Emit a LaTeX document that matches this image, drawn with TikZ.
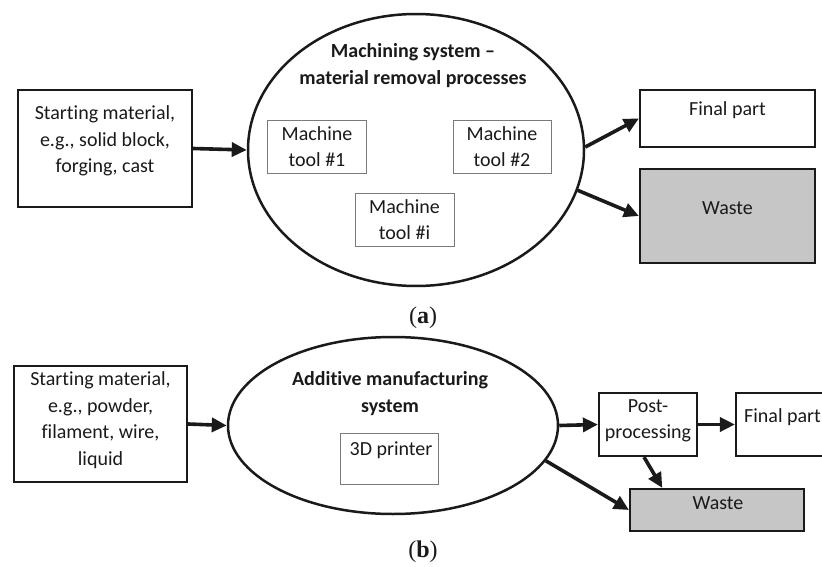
\documentclass[tikz,border=0pt]{standalone}
\usepackage{fontspec}
\setmainfont{Carlito}[Ligatures=NoCommon]
\newfontfamily\capfont{Liberation Serif}
\usetikzlibrary{shapes.geometric,arrows.meta}
\definecolor{ink}{HTML}{1A1A1A}
\definecolor{wastegray}{HTML}{C6C6C6}
\definecolor{thin}{HTML}{7A7A7A}
\tikzset{
  box/.style={draw=ink, line width=2.2pt, inner sep=0pt},
  tool/.style={draw=thin, line width=0.9pt, inner sep=0pt},
  sys/.style={ellipse, draw=ink, line width=2.5pt, inner sep=0pt},
  txt/.style={text=ink, align=center, inner sep=0pt, font=\fontsize{20}{26.5}\selectfont},
  ttl/.style={txt, font=\fontsize{20}{27}\selectfont\bfseries},
  flow/.style={draw=ink, line width=3.6pt, -{Triangle[length=15pt,width=14pt]}},
  subcap/.style={text=ink, inner sep=0pt, font=\capfont\fontsize{24}{26}\selectfont}
}
\begin{document}
\begin{tikzpicture}[x=1pt,y=-1pt]
\useasboundingbox (0,0) rectangle (822,567);
% ---------- (a) ----------
\node[box, minimum width=174pt, minimum height=117pt] (sa) at (105,148.5) {};
\node[txt] (sat) at (105,141) {Starting material,\\e.g., solid block,\\forging, cast};
\node[sys, minimum width=336pt, minimum height=272pt] (ea) at (416,150) {};
\node[ttl] (eat) at (413,66) {Machining system --\\material removal processes};
\node[tool, minimum width=99pt, minimum height=53pt] (m1) at (317,146.5) {};
\node[txt] (m1t) at (317,146.5) {Machine\\tool \#1};
\node[tool, minimum width=98pt, minimum height=53pt] (m2) at (502,146.5) {};
\node[txt] (m2t) at (502,146.5) {Machine\\tool \#2};
\node[tool, minimum width=99pt, minimum height=53pt] (mi) at (404.5,219.5) {};
\node[txt] (mit) at (404.5,219.5) {Machine\\tool \#i};
\node[box, minimum width=175pt, minimum height=57pt] (fa) at (727.5,118.5) {};
\node[txt] (fat) at (727.5,110) {Final part};
\node[box, fill=wastegray, minimum width=175pt, minimum height=94pt] (wa) at (727.5,216) {};
\node[txt] (wat) at (727.5,208) {Waste};
\draw[flow] (sa.east) -- (ea.west);
\draw[flow] (ea.1) -- (fa.west);
\draw[flow] (ea.-14) -- (wa.west);
\node[subcap] (capa) at (423,318) {(\textbf{a})};
% ---------- (b) ----------
\node[box, minimum width=173pt, minimum height=116pt] (sb) at (100.5,424) {};
\node[txt] (sbt) at (100.5,420) {Starting material,\\e.g., powder,\\filament, wire,\\liquid};
\node[sys, minimum width=330pt, minimum height=177pt] (eb) at (393,425.5) {};
\node[ttl] (ebt) at (390,394) {Additive manufacturing\\system};
\node[tool, minimum width=98pt, minimum height=51pt] (pr) at (389,458.5) {};
\node[txt] (prt) at (391,450) {3D printer};
\node[box, minimum width=98pt, minimum height=63pt] (pp) at (648,424.5) {};
\node[txt] (ppt) at (648,421) {Post-\\processing};
\node[box, minimum width=104pt, minimum height=63pt] (fb) at (788,424.5) {};
\node[txt, anchor=west] (fbt) at (744,417) {Final part};
\node[box, fill=wastegray, minimum width=174pt, minimum height=42pt] (wb) at (717,510) {};
\node[txt] (wbt) at (718,503) {Waste};
\draw[flow] (sb.east) -- (eb.west);
\draw[flow] (eb.east) -- (pp.west);
\draw[flow] (pp.east) -- (fb.west);
\draw[flow] (pp.-97) -- (wb.158.7);
\draw[flow] (eb.-13.3) -- (wb.west);
\node[subcap] (capb) at (423,552) {(\textbf{b})};
\end{tikzpicture}
\end{document}
